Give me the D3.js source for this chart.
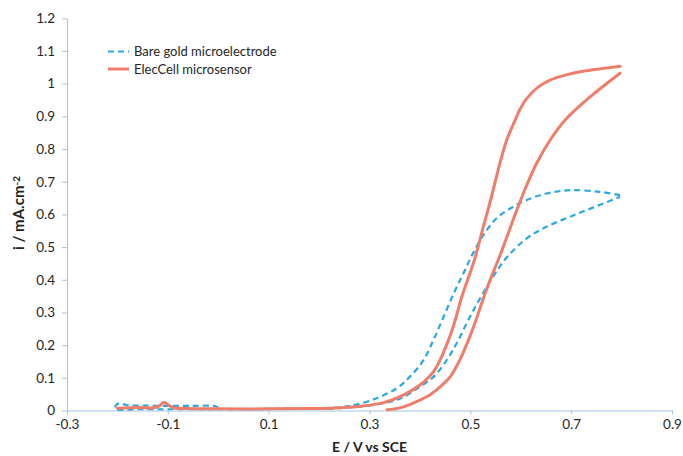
<!DOCTYPE html>
<html><head><meta charset="utf-8">
<script src="https://cdn.jsdelivr.net/npm/d3@7"></script>
<style>
body{margin:0;background:#fff}
text{font-family:Lato,'Open Sans',sans-serif}
</style></head>
<body><svg id="c" width="683" height="456"></svg>
<script>
// ---- data ----
const xTicks = [-0.3, -0.1, 0.1, 0.3, 0.5, 0.7, 0.9];
const yTicks = [0, 0.1, 0.2, 0.3, 0.4, 0.5, 0.6, 0.7, 0.8, 0.9, 1, 1.1, 1.2];
const seriesNames = ["Bare gold microelectrode", "ElecCell microsensor"];

// Bare gold microelectrode [E, i] : forward scan (incl. initial hook) and reverse scan
const bareGoldForward = [
  [0.0,0.008],[-0.005,0.013],[-0.05,0.014],[-0.1,0.014],[-0.15,0.015],[-0.18,0.016],[-0.195,0.022],[-0.2,0.02],[-0.205,0.006],
  [-0.15,0.004],[-0.05,0.004],[0.05,0.004],[0.15,0.005],[0.22,0.006],[0.255,0.009],[0.308,0.017],[0.361,0.037],
  [0.4,0.073],[0.427,0.103],[0.453,0.154],[0.473,0.206],[0.496,0.277],[0.52,0.345],[0.546,0.412],[0.572,0.468],
  [0.612,0.527],[0.651,0.562],[0.698,0.593],[0.745,0.622],[0.797,0.654]
];
const bareGoldReverse = [
  [0.797,0.659],[0.757,0.669],[0.698,0.674],[0.651,0.664],[0.612,0.644],[0.579,0.618],[0.552,0.588],[0.526,0.537],
  [0.505,0.48],[0.488,0.425],[0.47,0.368],[0.447,0.287],[0.427,0.216],[0.407,0.154],[0.38,0.103],[0.354,0.068],
  [0.308,0.034],[0.261,0.014],[0.222,0.008],[0.15,0.006],[0.08,0.005]
];

// ElecCell microsensor [E, i] : forward and reverse scans
const elecCellForward = [
  [0.335,0.002],[0.36,0.008],[0.38,0.018],[0.4,0.032],[0.418,0.046],[0.433,0.063],[0.447,0.082],[0.46,0.103],
  [0.479,0.154],[0.499,0.226],[0.512,0.28],[0.525,0.34],[0.542,0.41],[0.559,0.475],[0.577,0.55],[0.595,0.625],
  [0.612,0.69],[0.632,0.758],[0.658,0.827],[0.688,0.889],[0.737,0.959],[0.797,1.032]
];
const elecCellReverse = [
  [0.797,1.053],[0.76,1.046],[0.723,1.038],[0.69,1.027],[0.658,1.011],[0.635,0.99],[0.612,0.955],[0.598,0.92],
  [0.589,0.889],[0.572,0.827],[0.555,0.735],[0.542,0.654],[0.524,0.552],[0.508,0.46],[0.494,0.397],[0.483,0.348],
  [0.466,0.256],[0.446,0.175],[0.427,0.119],[0.4,0.078],[0.367,0.047],[0.33,0.025],[0.287,0.014],[0.222,0.007],
  [0.18,0.006],[0.1,0.005],[0.0,0.005],[-0.06,0.006],[-0.09,0.009],[-0.1,0.018],[-0.108,0.025],[-0.115,0.016],
  [-0.125,0.009],[-0.16,0.009],[-0.2,0.007]
];

// ---- chart ----
const svg = d3.select("#c");
svg.append("rect").attr("width",683).attr("height",456).attr("fill","#fff");
const x = d3.scaleLinear().domain([-0.3,0.9]).range([67,672]);
const y = d3.scaleLinear().domain([0,1.2]).range([410.5,18.3]);
const axisColor = "#a9c4de";
const labelColor = "#262626";
const fmt = d => String(+d.toFixed(1));

const gx = svg.append("g").attr("transform","translate(0,410.5)")
  .call(d3.axisBottom(x).tickValues(xTicks).tickFormat(fmt).tickSize(4).tickSizeOuter(0).tickPadding(5));
const gy = svg.append("g").attr("transform","translate(67,0)")
  .call(d3.axisLeft(y).tickValues(yTicks).tickFormat(fmt).tickSize(5).tickSizeOuter(0).tickPadding(7));
[gx,gy].forEach(g=>{
  g.select(".domain").attr("stroke",axisColor).attr("stroke-width",1);
  g.selectAll(".tick line").attr("stroke",axisColor);
  g.selectAll(".tick text").attr("fill",labelColor).style("font-size","13.5px").style("font-family","Lato,'Open Sans',sans-serif");
});

const line = d3.line().x(d=>x(d[0])).y(d=>y(d[1])).curve(d3.curveCatmullRom.alpha(0.5));

const blue = "#2aa8e0", red = "#f07c6a";
[bareGoldForward, bareGoldReverse].forEach(b=>{
  svg.append("path").datum(b).attr("d",line)
    .attr("fill","none").attr("stroke",blue).attr("stroke-width",2.2).attr("stroke-dasharray","6,4");
});
[elecCellForward, elecCellReverse].forEach(b=>{
  svg.append("path").datum(b).attr("d",line)
    .attr("fill","none").attr("stroke",red).attr("stroke-width",3).attr("stroke-linejoin","round").attr("stroke-linecap","round");
});

// legend
const lg = svg.append("g");
const legendRows = [
  {name:seriesNames[0], color:blue, dash:"6,4", w:2.2},
  {name:seriesNames[1], color:red, dash:null, w:3}
];
legendRows.forEach((r,i)=>{
  const yy = 51.5 + i*17.5;
  lg.append("line").attr("x1",108).attr("x2",129).attr("y1",yy).attr("y2",yy)
    .attr("stroke",r.color).attr("stroke-width",r.w).attr("stroke-dasharray",r.dash);
  lg.append("text").attr("x",134).attr("y",yy).attr("dy","0.35em")
    .attr("fill",labelColor).style("font-size","13px").text(r.name);
});

// axis titles
svg.append("text").attr("x",369.5).attr("y",452).attr("text-anchor","middle")
  .attr("fill","#222").style("font-size","14px").style("font-weight","bold").text("E / V vs SCE");
const yt = svg.append("text").attr("transform","translate(24,213) rotate(-90)").attr("text-anchor","middle")
  .attr("fill","#222").style("font-size","15px").style("font-weight","bold");
yt.append("tspan").text("i / mA.cm");
yt.append("tspan").attr("dy","-0.45em").style("font-size","10px").text("-2");
</script>
</body></html>
